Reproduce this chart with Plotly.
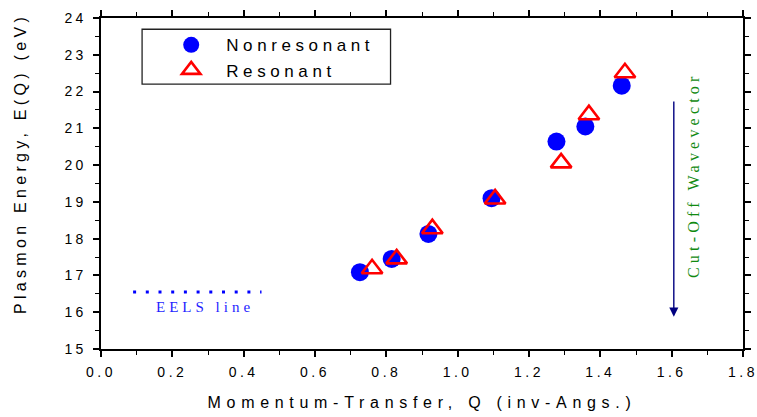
import plotly.graph_objects as go

# ---- data ----
q_nonres = [0.726, 0.815, 0.918, 1.095, 1.277, 1.358, 1.460]
e_nonres = [17.09, 17.45, 18.13, 19.10, 20.64, 21.05, 22.16]

q_res = [0.760, 0.829, 0.929, 1.105, 1.290, 1.368, 1.469]
e_res = [17.18, 17.45, 18.27, 19.08, 20.06, 21.37, 22.51]

eels_q = [0.09, 0.45]
eels_e = [16.55, 16.55]
eels_label = "EELS line"
eels_label_q, eels_label_e = 0.291, 16.15

cutoff_q = 1.606
cutoff_top_e, cutoff_bottom_e = 21.77, 15.88
cutoff_label = "Cut-Off Wavevector"
cutoff_label_q, cutoff_label_e = 1.6605, 19.73

x_tick_vals = [0.0, 0.2, 0.4, 0.6, 0.8, 1.0, 1.2, 1.4, 1.6, 1.8]
x_tick_text = ["0.0", "0.2", "0.4", "0.6", "0.8", "1.0", "1.2", "1.4", "1.6", "1.8"]
y_tick_vals = [15, 16, 17, 18, 19, 20, 21, 22, 23, 24]
y_tick_text = [str(v) for v in y_tick_vals]

SANS = "Liberation Sans, Arial, sans-serif"
SERIF = "Liberation Serif, Times New Roman, serif"

fig = go.Figure()

fig.add_trace(go.Scatter(
    x=q_nonres, y=e_nonres, mode="markers", name="Nonresonant",
    marker=dict(symbol="circle", size=18, color="#0000ff", line=dict(width=0)),
))
fig.add_trace(go.Scatter(
    x=q_res, y=e_res, mode="markers", name="Resonant",
    marker=dict(symbol="triangle-up-open", size=18, color="#ff0000",
                line=dict(width=2.6, color="#ff0000")),
))
fig.add_trace(go.Scatter(
    x=eels_q, y=eels_e, mode="lines", showlegend=False, hoverinfo="skip",
    line=dict(color="#0000ff", width=3, dash="3px,9.7px"),
))

fig.add_annotation(x=eels_label_q, y=eels_label_e, xref="x", yref="y",
                   text=eels_label, showarrow=False,
                   font=dict(family=SERIF, size=15, color="#1f1fff"))
fig.add_annotation(x=cutoff_label_q, y=cutoff_label_e, xref="x", yref="y",
                   text=cutoff_label, showarrow=False, textangle=-90,
                   font=dict(family=SERIF, size=16, color="#118a11"))
fig.add_annotation(x=cutoff_q, y=cutoff_bottom_e, ax=cutoff_q, ay=cutoff_top_e,
                   xref="x", yref="y", axref="x", ayref="y", text="",
                   showarrow=True, arrowhead=2, arrowsize=1.3, arrowwidth=1.4,
                   arrowcolor="#000080")

# legend frame
fig.add_shape(type="rect", xref="paper", yref="paper",
              x0=0.064, x1=0.451, y0=0.80, y1=0.966,
              line=dict(color="#222222", width=1.3), fillcolor="rgba(0,0,0,0)")

axis_common = dict(
    showline=True, linecolor="black", linewidth=2, mirror="ticks",
    ticks="outside", ticklen=6, tickwidth=1.5, tickcolor="black",
    showgrid=False, zeroline=False, automargin=False,
    tickfont=dict(family=SANS, size=14, color="black"),
)

fig.update_xaxes(
    range=[0, 1.8], tickvals=x_tick_vals, ticktext=x_tick_text,
    minor=dict(dtick=0.1, ticks="outside", ticklen=4, tickwidth=1.3, tickcolor="black"),
    title=dict(text="Momentum-Transfer, Q (inv-Angs.)",
               font=dict(family=SANS, size=16, color="black"), standoff=18),
    ticklabelstandoff=3,
    **axis_common,
)
fig.update_yaxes(
    range=[15, 24], tickvals=y_tick_vals, ticktext=y_tick_text,
    minor=dict(dtick=0.5, ticks="outside", ticklen=4, tickwidth=1.3, tickcolor="black"),
    title=dict(text="Plasmon Energy, E(Q) (eV)",
               font=dict(family=SANS, size=16, color="black"), standoff=40),
    ticklabelstandoff=4,
    **axis_common,
)

fig.update_layout(
    width=757, height=417,
    margin=dict(l=101, r=14, t=18, b=68),
    paper_bgcolor="white", plot_bgcolor="white",
    showlegend=True,
    legend=dict(x=0.086, y=0.972, xanchor="left", yanchor="top",
                bgcolor="rgba(0,0,0,0)", borderwidth=0,
                itemwidth=60,
                font=dict(family=SANS, size=17, color="black")),
)

post = """
document.body.style.margin = '0';
document.body.style.padding = '0';
var gd = document.getElementById('{plot_id}');
function ls(sel, v){ gd.querySelectorAll(sel).forEach(function(t){ t.style.letterSpacing = v; }); }
ls('.xtitle', '5.7px');
ls('.ytitle', '4.3px');
ls('.legendtext', '4.6px');
ls('.xtick text', '3.5px');
ls('.ytick text', '3px');
ls('.annotation[data-index="0"] text', '4px');
ls('.annotation[data-index="1"] text', '4.2px');
gd.querySelectorAll('.g-ytitle').forEach(function(g){ g.setAttribute('transform', 'translate(0,-20)'); });
gd.querySelectorAll('.legend .scrollbox').forEach(function(e){ e.removeAttribute('clip-path'); });
"""

fig.write_html("out.html", post_script=post, config={"displayModeBar": False})
